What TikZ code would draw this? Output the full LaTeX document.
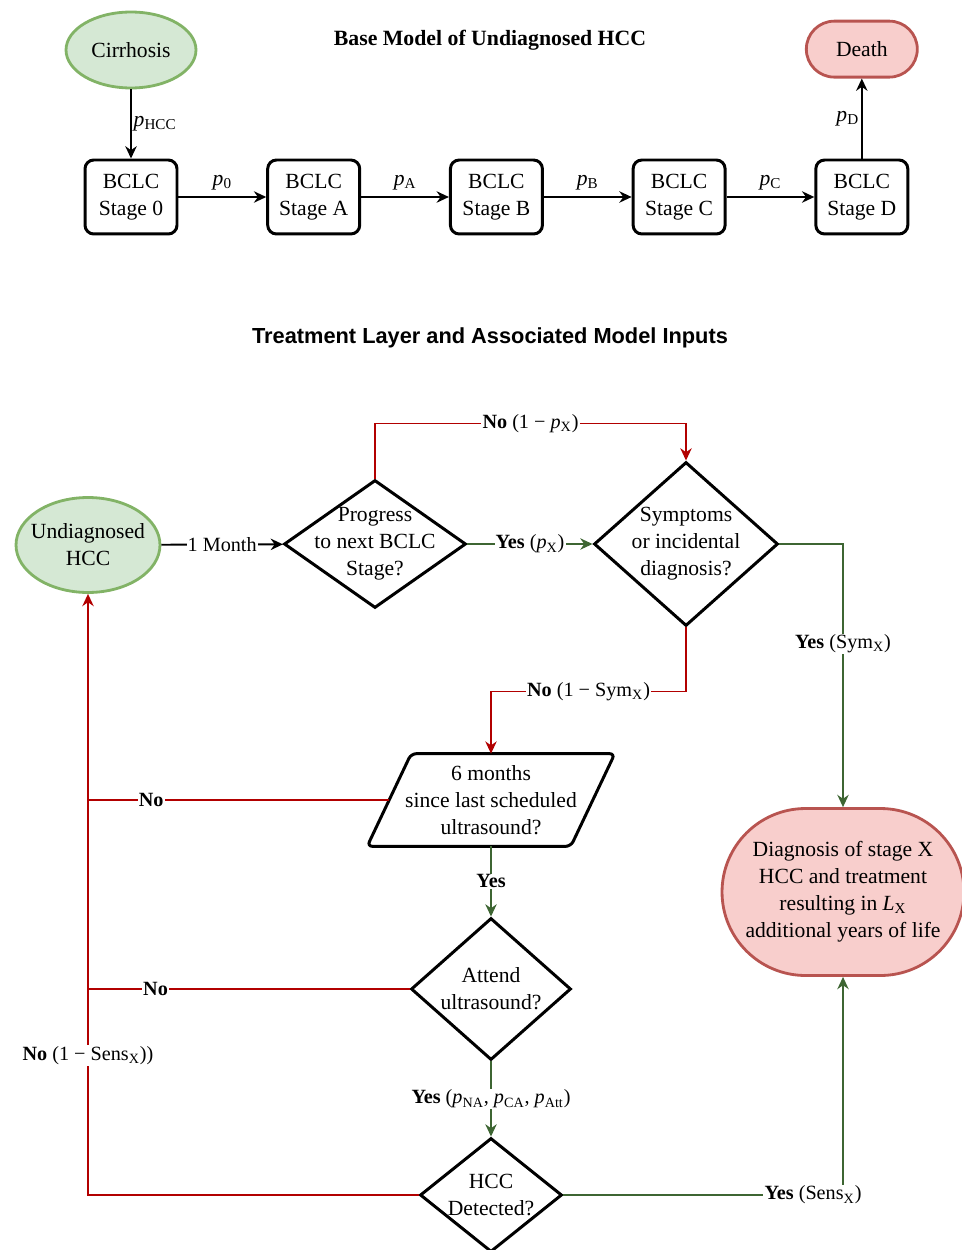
\documentclass[tikz,border=0pt]{standalone}
\usepackage{fontspec}
\setmainfont{Liberation Serif}
\newfontfamily\titlesans{Liberation Sans}
\usepackage{tikz}
\usetikzlibrary{positioning}
\usetikzlibrary{shapes.geometric, shapes.misc, arrows.meta}
\usepackage{xcolor}
\definecolor{startfill}{HTML}{D5E8D4}
\definecolor{startline}{HTML}{82B366}
\definecolor{endfill}{HTML}{F8CECC}
\definecolor{endline}{HTML}{B85450}
\definecolor{nored}{HTML}{B20000}
\definecolor{yesgreen}{HTML}{3D6532}
\newcommand{\prob}[1]{\textit{p}\textsubscript{#1}}

\begin{document}
\begin{tikzpicture}[x=0.02cm, y=-0.02cm, node distance=1.755cm,
  every node/.style={font=\fontsize{12.3}{15.3}\selectfont, align=center},
  stagebox/.style={rectangle, rounded corners=5pt, draw, line width=1.7pt, minimum width=1.84cm, minimum height=1.48cm, inner sep=0pt},
  startnode/.style={ellipse, draw=startline, fill=startfill, line width=1.6pt, inner sep=0pt},
  endnode/.style={rounded rectangle, draw=endline, fill=endfill, line width=1.6pt, inner sep=0pt},
  decision/.style={diamond, draw, line width=1.7pt, inner sep=0pt},
  iobody/.style={rectangle, minimum width=4.06cm, minimum height=1.84cm, inner sep=0pt},
  ioline/.style={line width=1.7pt, rounded corners=3pt},
  blackarrow/.style={-{Stealth[length=7pt,width=6.5pt]}, line width=1.1pt},
  yesline/.style={draw=yesgreen, line width=0.85pt, -{Stealth[length=7pt,width=6.5pt]}},
  noline/.style={draw=nored, line width=0.85pt, -{Stealth[length=7pt,width=6.5pt]}},
  edgelabel/.style={fill=white, inner sep=0.6pt, font=\fontsize{11.5}{14}\selectfont}]

\useasboundingbox (0,0) rectangle (962,1250);

% Base model
\node[font=\fontsize{12.4}{15}\selectfont\bfseries] (basetitle) at (490,40) {Base Model of Undiagnosed HCC};
\node[startnode, minimum width=2.6cm, minimum height=1.52cm, label=center:Cirrhosis] (cirr) at (131,50) {};
\node[stagebox] (s0) at (131,197) {BCLC\\Stage 0};
\node[stagebox, right=of s0] (sA) {BCLC\\Stage A};
\node[stagebox, right=of sA] (sB) {BCLC\\Stage B};
\node[stagebox, right=of sB] (sC) {BCLC\\Stage C};
\node[stagebox, right=of sC] (sD) {BCLC\\Stage D};
\node[endnode, minimum width=2.22cm, minimum height=1.12cm, label=center:Death, above=1.6cm of sD] (death) {};

\draw[blackarrow] (cirr) -- node[right, inner sep=1pt] {\prob{HCC}} (s0);
\draw[blackarrow] (s0) -- node[above] {\prob{0}} (sA);
\draw[blackarrow] (sA) -- node[above] {\prob{A}} (sB);
\draw[blackarrow] (sB) -- node[above] {\prob{B}} (sC);
\draw[blackarrow] (sC) -- node[above] {\prob{C}} (sD);
\draw[blackarrow] (sD) -- node[left, inner sep=1pt] {\prob{D}} (death);

% Treatment layer
\node[font=\fontsize{12.4}{15}\selectfont\titlesans\bfseries] (treattitle) at (490,338) {Treatment Layer and Associated Model Inputs};
\node[startnode, minimum width=2.88cm, minimum height=1.9cm, label={center:Undiagnosed\\HCC}] (undiag) at (88,545) {};
\node[decision, minimum width=3.64cm, minimum height=2.56cm, label={center:Progress\\to next BCLC\\Stage?}] (prog) at (375,544) {};
\node[decision, minimum width=3.68cm, minimum height=3.28cm, label={center:Symptoms\\or incidental\\diagnosis?}] (symp) at (686,544) {};
\node[iobody] (scan) at (491,800) {6 months\\since last scheduled\\ultrasound?};
\draw[ioline] ([xshift=0.44cm]scan.north west) -- ([xshift=0.44cm]scan.north east)
  -- ([xshift=-0.44cm]scan.south east) -- ([xshift=-0.44cm]scan.south west) -- cycle;
\node[decision, minimum width=3.2cm, minimum height=2.84cm, label={center:Attend\\ultrasound?}] (attend) at (491,989) {};
\node[decision, minimum width=2.84cm, minimum height=2.28cm, label={center:HCC\\Detected?}] (detect) at (491,1195) {};
\node[endnode, minimum width=4.84cm, minimum height=3.34cm, label={center:Diagnosis of stage X\\HCC and treatment\\resulting in \textit{L}\textsubscript{X}\\additional years of life}] (diag) at (843,892) {};

\draw[blackarrow] (undiag) -- node[edgelabel] {1 Month} (prog);
\draw[yesline] (prog) -- node[edgelabel] {\textbf{Yes} (\prob{X})} (symp);
\draw[noline] (prog.north) -- ++(0,-55) -| node[edgelabel, pos=0.25] {\textbf{No} (1 − \prob{X})} (symp.north);
\draw[yesline] (symp.east) -| node[edgelabel, pos=0.69] {\textbf{Yes} (Sym\textsubscript{X})} (diag.north);
\draw[noline] (symp.south) -- ++(0,64) -| node[edgelabel, pos=0.25] {\textbf{No} (1 − Sym\textsubscript{X})} (scan.north);
\draw[yesline] (scan.south) -- node[edgelabel] {\textbf{Yes}} (attend.north);
\draw[yesline] (attend.south) -- node[edgelabel] {\textbf{Yes} (\prob{NA}, \prob{CA}, \prob{Att})} (detect.north);
\draw[noline, -] (scan.west) -- node[edgelabel, pos=0.79] {\textbf{No}} (scan.west -| undiag.south);
\draw[noline, -] (attend.west) -- node[edgelabel, pos=0.79] {\textbf{No}} (attend.west -| undiag.south);
\draw[noline] (detect.west) -| node[edgelabel, pos=0.616] {\textbf{No} (1 − Sens\textsubscript{X}))} (undiag.south);
\draw[yesline] (detect.east) -| node[edgelabel, pos=0.5, xshift=-0.6cm] {\textbf{Yes} (Sens\textsubscript{X})} (diag.south);

\end{tikzpicture}
\end{document}
